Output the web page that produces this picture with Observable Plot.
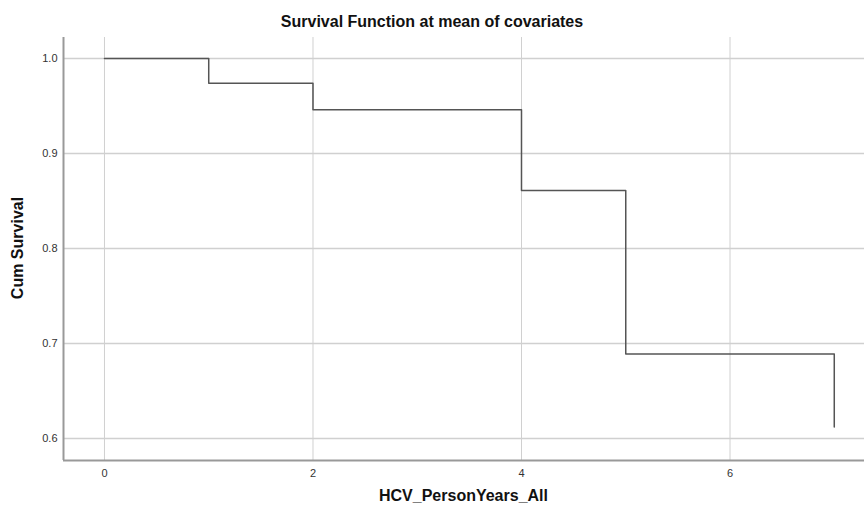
<!DOCTYPE html>
<html>
<head>
<meta charset="utf-8">
<script src="https://cdn.jsdelivr.net/npm/d3@7"></script>
<script src="https://cdn.jsdelivr.net/npm/@observablehq/plot@0.6"></script>
<style>
  body { margin: 0; background: #fff; }
  #wrap { position: relative; width: 864px; height: 511px; font-family: Arial, "Liberation Sans", sans-serif; }
  #title { position: absolute; left: 0; width: 864px; top: 13px; text-align: center; font-weight: bold; font-size: 16px; color: #111; }
  #xlab { position: absolute; left: 63px; width: 801px; top: 487px; text-align: center; font-weight: bold; font-size: 16px; color: #111; }
  #ylab { position: absolute; left: 18px; top: 248px; transform: translate(-50%, -50%) rotate(-90deg); font-weight: bold; font-size: 16px; color: #111; white-space: nowrap; }
</style>
</head>
<body>
<div id="wrap">
  <div id="chart"></div>
  <div id="title">Survival Function at mean of covariates</div>
  <div id="xlab">HCV_PersonYears_All</div>
  <div id="ylab">Cum Survival</div>
</div>
<script>
const times = [0, 1, 2, 4, 5, 7];
const survival = [1.0, 0.974, 0.946, 0.861, 0.689, 0.612];
const xTicks = [0, 2, 4, 6];
const yTicks = [0.6, 0.7, 0.8, 0.9, 1.0];

const data = times.map((t, i) => ({t, s: survival[i]}));
const xDomain = [-0.393, 7.29];
const yDomain = [0.5768, 1.0221];

const chart = Plot.plot({
  width: 864,
  height: 511,
  marginLeft: 63,
  marginRight: 0,
  marginTop: 37,
  marginBottom: 51,
  style: {fontFamily: "Arial, 'Liberation Sans', sans-serif", fontSize: "11px", color: "#333", background: "#fff"},
  x: {domain: xDomain, ticks: xTicks, label: null},
  y: {domain: yDomain, ticks: yTicks, label: null, tickFormat: d3.format(".1f")},
  marks: [
    Plot.gridX(xTicks, {stroke: "#d0d0d0", strokeOpacity: 1, strokeWidth: 1}),
    Plot.gridY(yTicks, {stroke: "#d0d0d0", strokeOpacity: 1, strokeWidth: 1.5}),
    Plot.axisX(xTicks, {tickSize: 0, tickPadding: 9, label: null, fill: "#333"}),
    Plot.axisY(yTicks, {tickSize: 0, tickPadding: 6, label: null, fill: "#333", tickFormat: d3.format(".1f")}),
    Plot.ruleX([xDomain[0]], {stroke: "#999", strokeWidth: 2}),
    Plot.ruleY([yDomain[0]], {stroke: "#999", strokeWidth: 2}),
    Plot.line(data, {x: "t", y: "s", curve: "step-after", stroke: "#555", strokeWidth: 1.5})
  ]
});
document.getElementById("chart").appendChild(chart);
</script>
</body>
</html>
